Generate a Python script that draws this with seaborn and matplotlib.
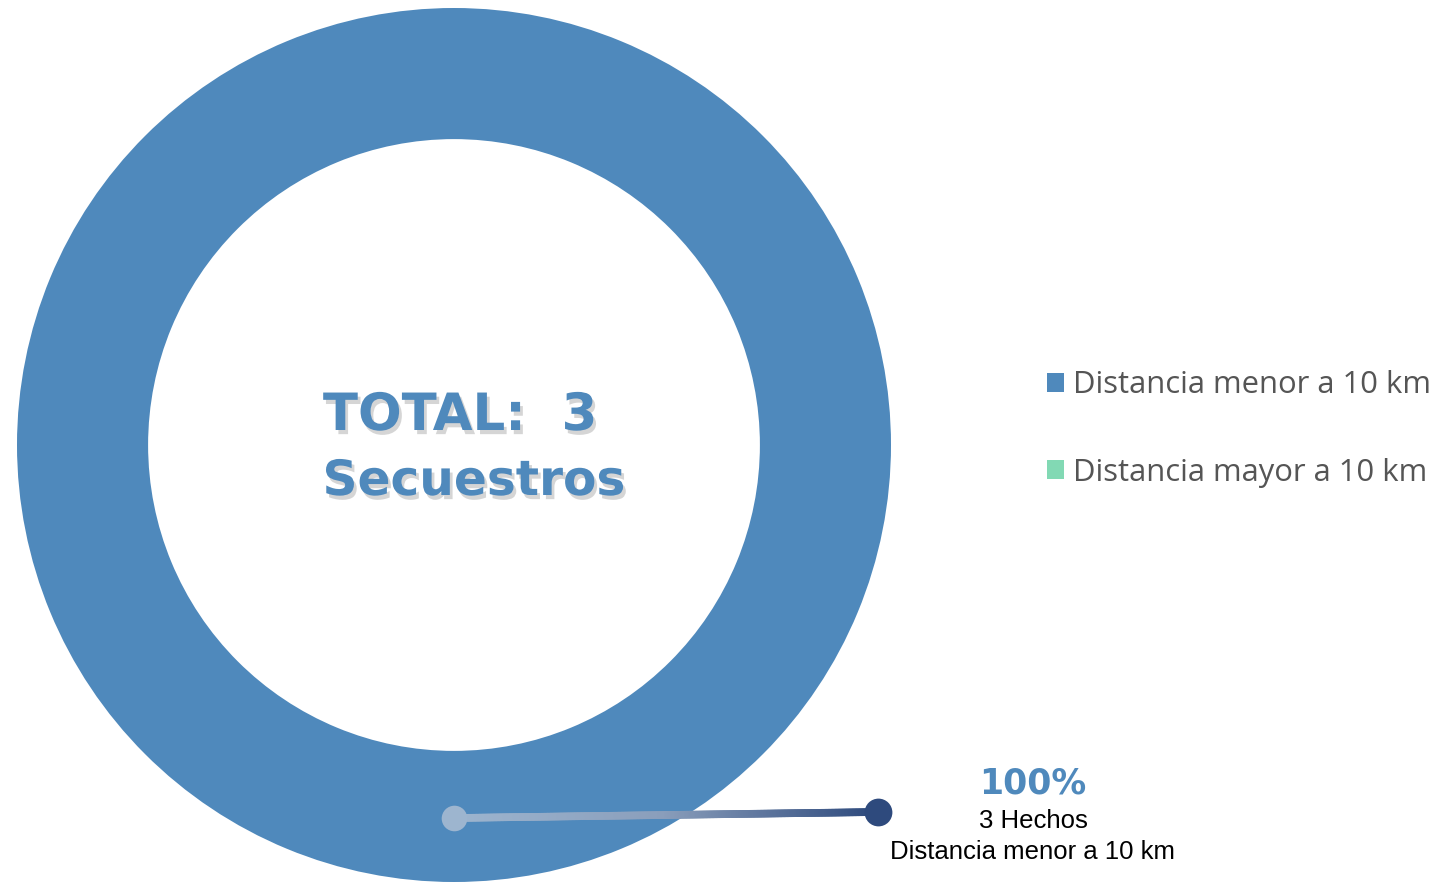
import numpy as np
import matplotlib.pyplot as plt
import matplotlib.patheffects as pe
from matplotlib.collections import LineCollection
import seaborn as sns

# datos
categorias = ['Distancia menor a 10 km', 'Distancia mayor a 10 km']
hechos = [3, 0]
colores = ['#4F89BC', '#82D9B4']
total = sum(hechos)

sns.set_theme(style='white')
plt.rcParams['font.family'] = ['Open Sans', 'DejaVu Sans']

fig = plt.figure(figsize=(14.56, 8.82), dpi=100)
ax = fig.add_axes([0, 0, 1, 1])

# dona
cx, cy, r = 454, 445, 437
wedges, _ = ax.pie(hechos, colors=colores, radius=r, center=(cx, cy),
                   startangle=90, counterclock=False,
                   wedgeprops=dict(width=r * 0.3, edgecolor='none'))
ax.set_xlim(0, 1456)
ax.set_ylim(882, 0)
ax.set_aspect('equal')
ax.axis('off')

# texto central con sombra
sombra = [pe.SimplePatchShadow(offset=(2, -3), shadow_rgbFace='#777777', alpha=0.3), pe.Normal()]
ax.text(cx + 6, cy - 29, f'TOTAL:  {total}', ha='center', va='center', fontsize=37,
        fontweight='bold', color=colores[0], path_effects=sombra, family='DejaVu Sans')
ax.text(cx + 20, cy + 36, 'Secuestros', ha='center', va='center', fontsize=35,
        fontweight='bold', color=colores[0], path_effects=sombra, family='DejaVu Sans')

# leyenda
leg = ax.legend(wedges, categorias, loc='center left', bbox_to_anchor=(1047 / 1456, 1 - 429 / 882),
                frameon=False, handlelength=0.55, handleheight=0.55, handletextpad=0.3,
                labelspacing=1.85, fontsize=22.3, borderpad=0, borderaxespad=0)
for t in leg.get_texts():
    t.set_color('#555555')

# linea de anotacion con degradado
x0, y0 = cx, cy + 373
x1, y1 = cx + 424, cy + 367
n = 300
xs = np.linspace(x0, x1, n)
ys = np.linspace(y0, y1, n)
segs = np.stack([np.column_stack([xs[:-1], ys[:-1]]), np.column_stack([xs[1:], ys[1:]])], axis=1)
cmap = sns.blend_palette(['#9DB5CF', '#8A9EBB', '#2E4A7D'], as_cmap=True)
lc = LineCollection(segs, cmap=cmap, linewidths=5.5, capstyle='round')
lc.set_array(np.linspace(0, 1, n - 1))
ax.add_collection(lc)
ax.scatter([x0], [y0], s=340, color='#9DB5CF', zorder=3, linewidths=0)
ax.scatter([x1], [y1], s=400, color='#2E4A7D', zorder=3, linewidths=0)

# etiqueta
pct = hechos[0] / total * 100
ax.text(1033, 783, f'{pct:.0f}%', ha='center', va='center', fontsize=25,
        fontweight='bold', color=colores[0], family='DejaVu Sans')
ax.text(1033, 821, f'{hechos[0]} Hechos', ha='center', va='center', fontsize=18.5,
        color='black', family='Liberation Sans')
ax.text(1033, 852, categorias[0], ha='center', va='center', fontsize=18.5,
        color='black', family='Liberation Sans')

fig.savefig('out.png', dpi=100)
